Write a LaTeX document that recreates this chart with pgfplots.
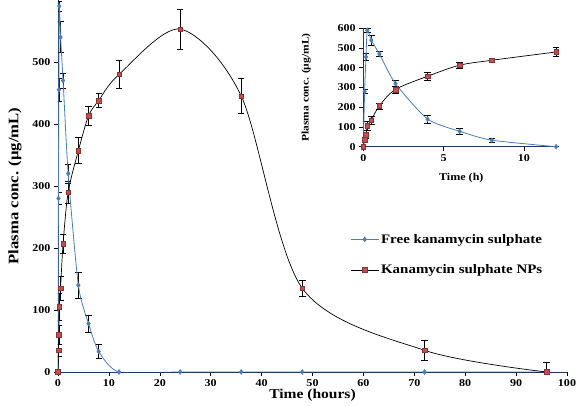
\documentclass[border=0pt]{standalone}
\usepackage{fontspec}
\setmainfont{Liberation Serif}[FakeStretch=1.15]
\usepackage{pgfplots}
\pgfplotsset{compat=1.18}
\usepackage{pgfplotstable}

\definecolor{freeblue}{RGB}{74,126,187}
\definecolor{npred}{RGB}{192,80,77}
\definecolor{npedge}{RGB}{140,50,48}
\definecolor{axcol}{RGB}{31,56,100}

% time (h), plasma concentration (ug/mL), error (SD)
\pgfplotstableread{
t      c    e
0      0    0
0.083  280  10
0.167  455  18
0.25   590  8
0.5    540  25
1      470  12
2      320  15
4      140  21
6      78   14
8      33   11
12     0    0
24     0    0
36     0    0
48     0    0
72     0    0
96     0    0
}\freedata

\pgfplotstableread{
t      c    e
0      0    0
0.083  35   10
0.167  60   15
0.25   105  22
0.5    135  20
1      207  15
2      290  18
4      357  21
6      413  15
8      438  11
12     480  22
24     553  32
36     445  28
48     135  13
72     35   16
96     0    16
}\npdata

\pgfplotsset{
  kstyle/.style={
    axis x line*=bottom, axis y line*=left,
    axis line style={axcol, line width=0.8pt, -},
    tick align=outside, major tick length=4pt,
    tick style={black, line width=0.6pt},
    /pgf/number format/assume math mode=true,
    ticklabel style={font=\bfseries\fontsize{10.5}{12}\selectfont},
    clip mode=individual,
  },
  freeline/.style={freeblue, line width=0.8pt, smooth, tension=0.4,
    mark=diamond*, mark size=2.2pt, mark options={fill=freeblue, draw=freeblue}},
  npline/.style={black, line width=0.7pt, smooth, tension=0.5,
    mark=square*, mark size=2.3pt, mark options={fill=npred, draw=npedge, line width=0.4pt}},
  ebars/.style={draw=none, mark=none, forget plot,
    error bars/y dir=both, error bars/y explicit,
    error bars/error bar style={black, line width=0.6pt},
    error bars/error mark options={rotate=90, mark size=3.2pt, black, line width=0.6pt},
    y filter/.expression={\thisrow{e}>0 ? y : nan},
    unbounded coords=discard},
}

\begin{document}
\begin{tikzpicture}
\useasboundingbox (-58pt,-34pt) rectangle (518pt,372pt);
% main axis: 0-96 h
\begin{axis}[
  kstyle,
  at={(0pt,0pt)}, anchor=south west,
  scale only axis, width=509pt, height=372pt,
  xmin=0, xmax=100, ymin=0, ymax=600,
  xtick={0,10,...,100}, ytick={0,100,...,500},
  xlabel={Time (hours)},
  ylabel={Plasma conc. (µg/mL)},
  xlabel style={at={(axis description cs:0.5,-0.0885)}, anchor=south,
    font=\bfseries\fontsize{13.5}{15}\selectfont},
  ylabel style={at={(axis description cs:-0.0845,0.5)}, anchor=center, rotate=0,
    font=\bfseries\fontsize{14.5}{16}\selectfont},
  legend style={at={(axis description cs:0.568,0.382)}, anchor=north west,
    draw=none, fill=none, row sep=16pt,
    font=\bfseries\fontsize{13}{14}\selectfont},
  legend cell align=left,
  legend image code/.code={\draw[mark repeat=2,mark phase=2,#1]
    plot coordinates {(0pt,0pt)(14pt,0pt)(28pt,0pt)};},
]
\addplot[ebars] table[x=t, y=c, y error=e]{\freedata};
\addplot[ebars] table[x=t, y=c, y error=e]{\npdata};
\addplot[freeline] table[x=t, y=c]{\freedata};
\addplot[npline] table[x=t, y=c]{\npdata};
\legend{Free kanamycin sulphate, Kanamycin sulphate NPs}
\end{axis}

% inset: first 12 h
\begin{axis}[
  kstyle,
  at={(305.3pt,225.3pt)}, anchor=south west,
  scale only axis, width=196pt, height=118.4pt,
  xmin=0, xmax=12.2, ymin=0, ymax=600,
  xtick={0,5,10}, ytick={0,100,...,600},
  xlabel={Time (h)},
  ylabel={Plasma conc. (µg/mL)},
  xlabel style={at={(axis description cs:0.5,-0.262)}, anchor=center,
    font=\bfseries\fontsize{10.5}{12}\selectfont},
  ylabel style={at={(axis description cs:-0.291,0.5)}, anchor=center, rotate=0,
    font=\bfseries\fontsize{10}{12}\selectfont},
]
\addplot[ebars, restrict x to domain=0:12] table[x=t, y=c, y error=e]{\freedata};
\addplot[ebars, restrict x to domain=0:12] table[x=t, y=c, y error=e]{\npdata};
\addplot[freeline, restrict x to domain=0:12] table[x=t, y=c]{\freedata};
\addplot[npline, restrict x to domain=0:12] table[x=t, y=c]{\npdata};
\end{axis}
\end{tikzpicture}
\end{document}
